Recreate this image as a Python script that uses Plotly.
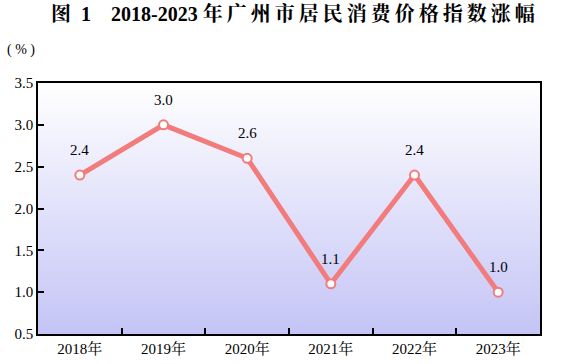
import plotly.graph_objects as go
import base64

years = ["2018年", "2019年", "2020年", "2021年", "2022年", "2023年"]
values = [2.4, 3.0, 2.6, 1.1, 2.4, 1.0]
y_ticks = [0.5, 1.0, 1.5, 2.0, 2.5, 3.0, 3.5]

FONT = "Liberation Serif, 'Noto Serif CJK SC', 'Noto Sans CJK SC', serif"
LINE = "#f27b7b"
TS = "\u2009"
title_text = "图  1    2018-2023 " + TS.join("年广州市居民消费价格指数涨幅")

svg = ('<svg xmlns="http://www.w3.org/2000/svg" width="100" height="100" preserveAspectRatio="none">'
       '<defs><linearGradient id="g" x1="0" y1="0" x2="0" y2="1">'
       '<stop offset="0" stop-color="#ffffff"/><stop offset="1" stop-color="#c4c4f6"/>'
       '</linearGradient></defs><rect width="100" height="100" fill="url(#g)"/></svg>')
src = "data:image/svg+xml;base64," + base64.b64encode(svg.encode()).decode()

fig = go.Figure()
fig.add_trace(go.Scatter(
    x=years, y=values, mode="lines+markers",
    line=dict(color=LINE, width=5),
    marker=dict(size=9, color="white", line=dict(color=LINE, width=2)),
    hoverinfo="skip", showlegend=False, cliponaxis=False,
))

for yr, v in zip(years, values):
    fig.add_annotation(x=yr, y=v, text=f"{v:.1f}", showarrow=False,
                       yshift=25, font=dict(family=FONT, size=15, color="#000"))

fig.add_annotation(xref="paper", yref="paper", x=-0.066, y=1.131,
                   xanchor="left", yanchor="middle", text="( % )", showarrow=False,
                   font=dict(family=FONT, size=14, color="#000"))

fig.add_layout_image(dict(source=src, xref="paper", yref="paper", x=0, y=1,
                          sizex=1, sizey=1, sizing="stretch", layer="below",
                          xanchor="left", yanchor="top"))

fig.update_layout(
    width=570, height=364,
    margin=dict(l=38, r=30, t=83, b=30, autoexpand=False),
    paper_bgcolor="white", plot_bgcolor="rgba(0,0,0,0)",
    title=dict(text=title_text, automargin=False,
               x=51/570, xanchor="left", y=1 - 14/364, yanchor="middle",
               font=dict(family=FONT, size=20, color="#000", weight="bold")),
    xaxis=dict(type="category", range=[-0.5, 5.5], tickson="boundaries",
               ticks="inside", ticklen=6, tickcolor="#000", tickwidth=1.5,
               showline=True, linecolor="#000", linewidth=1.5, mirror=True,
               showgrid=False, zeroline=False, automargin=False,
               tickfont=dict(family=FONT, size=15, color="#000")),
    yaxis=dict(range=[0.5, 3.5], tickvals=y_ticks, tickformat=".1f",
               ticks="inside", ticklen=6, tickcolor="#000", tickwidth=1.5,
               showline=True, linecolor="#000", linewidth=1.5, mirror=True,
               showgrid=False, zeroline=False, automargin=False,
               tickfont=dict(family=FONT, size=15, color="#000")),
)

fig.write_html("out.html", config={"displayModeBar": False},
               post_script="document.body.style.margin='0';")
